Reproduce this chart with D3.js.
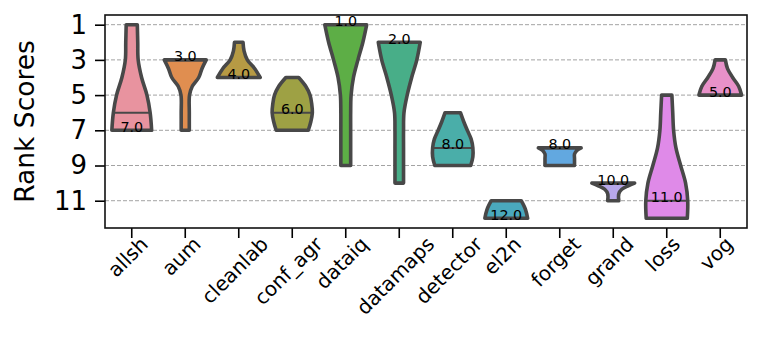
<!DOCTYPE html>
<meta charset="utf-8">
<style>
body { margin: 0; background: #fff; }
text { font-family: "DejaVu Sans", sans-serif; }
.grid line { stroke: #999; stroke-dasharray: 4,2; stroke-width: 0.9; }
</style>
<svg width="761" height="341"></svg>
<script src="https://d3js.org/d3.v7.min.js"></script>
<script>

// methods on the x axis
var methods = ["allsh", "aum", "cleanlab", "conf_agr", "dataiq", "datamaps",
               "detector", "el2n", "forget", "grand", "loss", "vog"];

// number written on each violin
var rankLabels = [7, 3, 4, 6, 1, 2, 8, 12, 8, 10, 11, 5];

// horizontal line drawn inside some violins (null = none)
var innerLines = [6, null, null, 6, null, null, 8, null, null, null, 11, null];

var yTicks = [1, 3, 5, 7, 9, 11];

var colors = ["#e8939f", "#e08e50", "#b69a44", "#9ea144", "#5dae46", "#48ae88",
              "#4aaea9", "#4aa9bd", "#62a8e0", "#b7a8ea", "#df8ae8", "#e891c9"];

// violin profiles: [rank, relative width]
var profiles = [
  [[1,.26],[2,.28],[3,.30],[4,.46],[5,.71],[6,.86],[7,.93]],
  [[3,.98],[3.5,.78],[4,.63],[4.5,.33],[5,.2],[6,.19],[7,.19]],
  [[2,.2],[2.5,.25],[3,.4],[3.5,.75],[4,1]],
  [[4,.3],[4.5,.63],[5,.83],[5.5,.91],[6,.94],[6.5,.87],[7,.75]],
  [[1,.98],[2,.8],[3,.57],[4,.36],[5,.25],[6,.23],[7,.23],[8,.23],[9,.23]],
  [[2,.98],[3,.82],[4,.58],[5,.37],[6,.22],[7,.2],[8,.2],[9,.2],[10,.2]],
  [[6,.36],[6.5,.51],[7,.68],[7.5,.86],[8,.94],[8.5,.94],[9,.84]],
  [[11,.7],[11.5,.9],[12,1]],
  [[8,1],[8.15,.8],[8.35,.69],[8.6,.69],[9,.69]],
  [[10,1],[10.15,.7],[10.35,.4],[10.6,.26],[11,.26]],
  [[5,.24],[6,.28],[7,.32],[8,.43],[9,.65],[10,.88],[11,.98],[12,.96]],
  [[3,.24],[3.5,.34],[4,.58],[4.5,.86],[5,1]]
];

var svg = d3.select("svg");
var margin = {top: 15, right: 14, bottom: 113, left: 105};
var width = 761 - margin.left - margin.right,
    height = 341 - margin.top - margin.bottom;

var g = svg.append("g")
    .attr("transform", "translate(" + margin.left + "," + margin.top + ")");

var x = d3.scaleBand().domain(methods).range([0, width]).padding(0);
var y = d3.scaleLinear().domain([0.45, 12.55]).range([0, height]);
var halfW = x.bandwidth() * 0.4;

// grid
g.append("g").attr("class", "grid")
  .selectAll("line").data(yTicks).enter().append("line")
    .attr("x1", 0).attr("x2", width)
    .attr("y1", d => y(d)).attr("y2", d => y(d));

// violins
var area = d3.area()
    .curve(d3.curveCatmullRom.alpha(0.5));

methods.forEach(function(m, i) {
  var cx = x(m) + x.bandwidth() / 2;
  area.y(d => y(d[0]))
      .x0(d => cx - d[1] * halfW)
      .x1(d => cx + d[1] * halfW);
  g.append("path")
    .datum(profiles[i])
    .attr("d", area)
    .attr("fill", colors[i])
    .attr("stroke", "#484848")
    .attr("stroke-width", 3.6)
    .attr("stroke-linejoin", "round");

  if (innerLines[i] != null) {
    var pr = profiles[i], v = innerLines[i], w = 0;
    for (var k = 0; k < pr.length - 1; k++) {
      if (v >= pr[k][0] && v <= pr[k + 1][0]) {
        var t = (v - pr[k][0]) / (pr[k + 1][0] - pr[k][0]);
        w = pr[k][1] + t * (pr[k + 1][1] - pr[k][1]);
      }
    }
    g.append("line")
      .attr("x1", cx - w * halfW).attr("x2", cx + w * halfW)
      .attr("y1", y(v)).attr("y2", y(v))
      .attr("stroke", "#484848").attr("stroke-width", 2);
  }

  g.append("text")
    .attr("x", cx).attr("y", y(rankLabels[i]) + 1.5)
    .attr("text-anchor", "middle")
    .attr("font-size", 14.3)
    .attr("fill", "#000")
    .text(d3.format(".1f")(rankLabels[i]));
});

// axes
var yAxis = g.append("g")
    .call(d3.axisLeft(y).tickValues(yTicks).tickSize(10).tickPadding(8));
yAxis.selectAll("text").attr("font-size", 26).attr("fill", "#000");
yAxis.selectAll("line").attr("stroke", "#000").attr("stroke-width", 1.6);
yAxis.select(".domain").remove();

var xAxis = g.append("g")
    .attr("transform", "translate(0," + height + ")")
    .call(d3.axisBottom(x).tickSize(10));
xAxis.select(".domain").remove();
xAxis.selectAll("line").attr("stroke", "#000").attr("stroke-width", 1.6);

// rotated labels, bounding box centred under the tick
var fx = 20;
xAxis.selectAll("text")
    .attr("font-size", fx)
    .attr("fill", "#000")
    .attr("text-anchor", "middle")
    .attr("dy", null)
    .attr("y", 0).attr("x", 0)
    .attr("transform", function() {
      var len = this.getComputedTextLength();
      var ty = 7 + 0.707 * (len / 2 + 0.74 * fx);
      return "translate(1," + ty + ") rotate(-45)";
    });

// frame
g.append("rect")
    .attr("width", width).attr("height", height)
    .attr("fill", "none")
    .attr("stroke", "#111")
    .attr("stroke-width", 1.6);

svg.append("text")
    .attr("transform", "translate(34," + (margin.top + height / 2) + ") rotate(-90)")
    .attr("text-anchor", "middle")
    .attr("font-size", 26.5)
    .attr("fill", "#000")
    .text("Rank Scores");

</script>
